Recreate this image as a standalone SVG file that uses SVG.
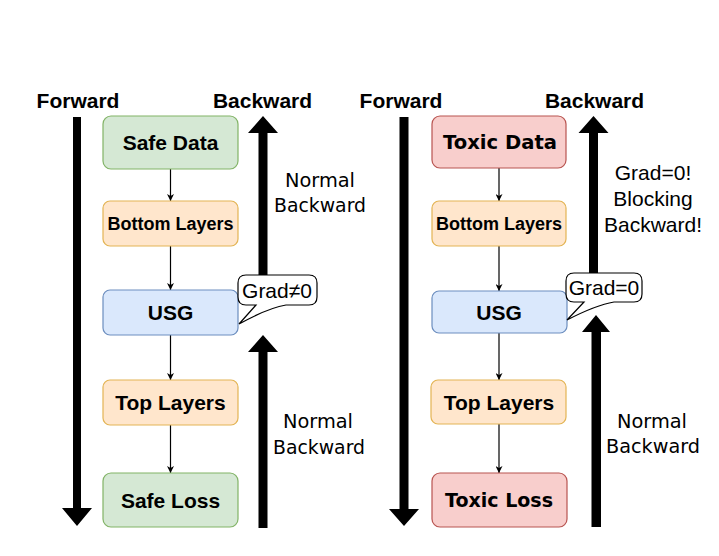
<svg xmlns="http://www.w3.org/2000/svg" width="719" height="556" viewBox="0 0 719 556">
<style>
.hdr{font-family:"Liberation Sans",Arial,sans-serif;font-weight:bold;font-size:21px;fill:#000;text-anchor:middle}
.lbl{font-family:"Liberation Sans",Arial,sans-serif;font-weight:bold;font-size:21px;fill:#000;text-anchor:middle}
.lbls{font-family:"Liberation Sans",Arial,sans-serif;font-weight:bold;font-size:18px;fill:#000;text-anchor:middle}
.comic{font-family:"DejaVu Sans",sans-serif;font-size:19px;fill:#000;text-anchor:middle}
.comicb{font-family:"DejaVu Sans",sans-serif;font-weight:bold;font-size:19px;fill:#000;text-anchor:middle}
.plain{font-family:"Liberation Sans",Arial,sans-serif;font-size:21px;fill:#000;text-anchor:middle}
.safe{fill:#d5e8d4;stroke:#82b366;stroke-width:1.2}
.layer{fill:#ffe6cc;stroke:#e3b454;stroke-width:1.2}
.usg{fill:#dae8fc;stroke:#6c8ebf;stroke-width:1.2}
.toxic{fill:#f8cecc;stroke:#b85450;stroke-width:1.2}
.conn{stroke:#000;stroke-width:1.2;fill:none;marker-end:url(#ah)}
.big{fill:#000}
.call{fill:#fff;stroke:#000;stroke-width:1.2}
</style>
<defs>
<marker id="ah" viewBox="0 0 10 10" refX="10" refY="5" markerWidth="7" markerHeight="7" markerUnits="userSpaceOnUse" orient="auto">
<path d="M0,0 L10,5 L0,10 L3,5 Z" fill="#000"/>
</marker>
</defs>
<rect width="719" height="556" fill="#fff"/>

<!-- Left panel big arrows -->
<g id="left-forward">
<text class="hdr" x="78" y="108">Forward</text>
<path class="big" d="M73,117 H81 V508 H92 L77,526 L62,508 H73 Z"/>
</g>
<g id="left-backward">
<text class="hdr" x="262.5" y="108">Backward</text>
<path class="big" d="M263,116 L278,133 H267.5 V276 H258.5 V133 H248 Z"/>
<path class="big" d="M263,335 L278,352 H267.5 V528 H258.5 V352 H248 Z"/>
<text class="comic" x="320" y="187" textLength="70" lengthAdjust="spacingAndGlyphs">Normal</text>
<text class="comic" x="320" y="212" textLength="92" lengthAdjust="spacingAndGlyphs">Backward</text>
<text class="comic" x="318" y="428" textLength="70" lengthAdjust="spacingAndGlyphs">Normal</text>
<text class="comic" x="319" y="454" textLength="92" lengthAdjust="spacingAndGlyphs">Backward</text>
</g>

<!-- Right panel big arrows -->
<g id="right-forward">
<text class="hdr" x="401" y="108">Forward</text>
<path class="big" d="M399.5,117 H408.5 V509 H419 L404,526 L389,509 H399.5 Z"/>
</g>
<g id="right-backward">
<text class="hdr" x="594.5" y="108">Backward</text>
<path class="big" d="M593.5,116 L608.5,133 H598 V275 H589 V133 H578.5 Z"/>
<path class="big" d="M596,315 L610,332 H601 V527 H591.5 V332 H582 Z"/>
<text class="plain" x="653" y="180">Grad=0!</text>
<text class="plain" x="653" y="206">Blocking</text>
<text class="plain" x="653" y="232">Backward!</text>
<text class="comic" x="652" y="428" textLength="70" lengthAdjust="spacingAndGlyphs">Normal</text>
<text class="comic" x="653" y="453" textLength="94" lengthAdjust="spacingAndGlyphs">Backward</text>
</g>

<!-- Connectors -->
<g id="connectors">
<line class="conn" x1="170.5" y1="169" x2="170.5" y2="201"/>
<line class="conn" x1="170.5" y1="246" x2="170.5" y2="290"/>
<line class="conn" x1="170.5" y1="335" x2="170.5" y2="380"/>
<line class="conn" x1="170.5" y1="425" x2="170.5" y2="473"/>
<line class="conn" x1="499" y1="168" x2="499" y2="201"/>
<line class="conn" x1="499" y1="246" x2="499" y2="291"/>
<line class="conn" x1="499" y1="333" x2="499" y2="380"/>
<line class="conn" x1="499" y1="424" x2="499" y2="473"/>
</g>

<!-- Left nodes -->
<g id="safe-data">
<rect class="safe" x="103" y="116" width="135" height="53" rx="8"/>
<text class="lbl" x="170.5" y="150">Safe Data</text>
</g>
<g id="left-bottom-layers">
<rect class="layer" x="103" y="201" width="135" height="45" rx="7"/>
<text class="lbls" x="170.5" y="230">Bottom Layers</text>
</g>
<g id="left-usg">
<rect class="usg" x="103" y="290" width="135" height="45" rx="7"/>
<text class="lbl" x="170.5" y="320">USG</text>
</g>
<g id="left-top-layers">
<rect class="layer" x="103" y="380" width="135" height="45" rx="7"/>
<text class="lbl" x="170.5" y="410">Top Layers</text>
</g>
<g id="safe-loss">
<rect class="safe" x="103" y="473" width="135" height="54" rx="8"/>
<text class="lbl" x="170.5" y="507.5">Safe Loss</text>
</g>
<g id="callout-left">
<path class="call" d="M246,275 H309 Q317,275 317,283 V297 Q317,305 309,305 H286 Q268,308 239,324 L256,305 H246 Q238,305 238,297 V283 Q238,275 246,275 Z"/>
<text class="plain" x="277" y="298">Grad≠0</text>
</g>

<!-- Right nodes -->
<g id="toxic-data">
<rect class="toxic" x="432" y="116" width="134" height="52" rx="8"/>
<text class="comicb" x="500" y="149" textLength="114" lengthAdjust="spacingAndGlyphs">Toxic Data</text>
</g>
<g id="right-bottom-layers">
<rect class="layer" x="432" y="201" width="134" height="45" rx="7"/>
<text class="lbls" x="499" y="230">Bottom Layers</text>
</g>
<g id="right-usg">
<rect class="usg" x="432" y="291" width="135" height="42" rx="7"/>
<text class="lbl" x="499" y="320">USG</text>
</g>
<g id="right-top-layers">
<rect class="layer" x="431" y="380" width="135" height="44" rx="7"/>
<text class="lbl" x="499" y="410">Top Layers</text>
</g>
<g id="toxic-loss">
<rect class="toxic" x="432" y="473" width="135" height="54" rx="8"/>
<text class="comicb" x="499" y="507" textLength="108" lengthAdjust="spacingAndGlyphs">Toxic Loss</text>
</g>
<g id="callout-right">
<path class="call" d="M574,273 H634 Q642,273 642,281 V294 Q642,302 634,302 H614 Q596,305 567,320 L584,302 H574 Q566,302 566,294 V281 Q566,273 574,273 Z"/>
<text class="plain" x="604" y="295">Grad=0</text>
</g>
</svg>
